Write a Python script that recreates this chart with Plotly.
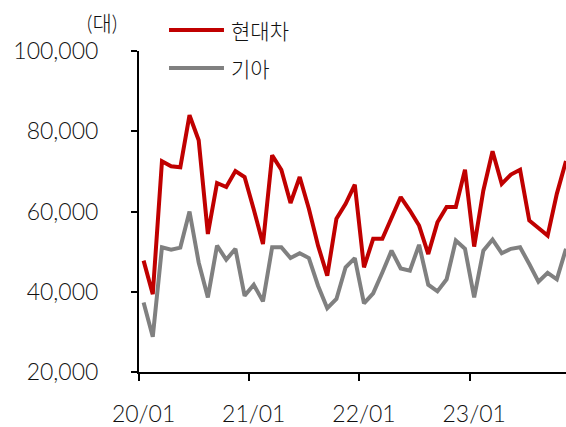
import plotly.graph_objects as go

months = [f"{y:02d}/{m:02d}" for y in range(20, 24) for m in range(1, 13)][:47]

hyundai = [47750, 39400, 72500, 71250, 71000, 84000, 77750, 54400, 67100, 66100, 70100, 68600,
           60500, 51900, 74000, 70400, 62100, 68600, 60700, 51500, 44000, 58200, 61900, 66700,
           46100, 53200, 53200, 58600, 63600, 60250, 56500, 49400, 57300, 61100, 61100, 70400,
           51250, 65250, 75000, 66900, 69200, 70400, 57750, 55900, 54000, 64400, 72600]

kia = [37300, 28800, 51100, 50500, 51000, 60000, 47300, 38600, 51500, 48000, 50700, 39000,
       41750, 37600, 51100, 51100, 48400, 49600, 48400, 41500, 35900, 38200, 46100, 48400,
       37100, 39600, 44800, 50250, 45800, 45250, 51700, 41750, 40100, 43100, 52750, 50700,
       38600, 50250, 53000, 49600, 50700, 51100, 46900, 42500, 44700, 43100, 50700]

series_names = ["현대차", "기아"]
series_colors = ["#C00000", "#808080"]
unit_label = "(대)"
y_ticks = [20000, 40000, 60000, 80000, 100000]
label_idx = [0, 12, 24, 36]

x = list(range(len(months)))
FONT = "Lato, 'Noto Sans CJK KR', sans-serif"
TXT = "#111111"
xr = [-0.5, 46.0]

fig = go.Figure()
fig.add_trace(go.Scatter(x=x, y=kia, mode="lines", name=series_names[1],
                         line=dict(color=series_colors[1], width=4), xaxis="x2", yaxis="y"))
fig.add_trace(go.Scatter(x=x, y=hyundai, mode="lines", name=series_names[0],
                         line=dict(color=series_colors[0], width=4)))

fig.update_layout(
    width=566, height=427,
    margin=dict(l=139, r=0, t=51, b=55, autoexpand=False),
    paper_bgcolor="white", plot_bgcolor="white",
    showlegend=False,
    font=dict(family=FONT, size=23, color=TXT, weight=300),
    xaxis=dict(range=xr, showgrid=False, zeroline=False, showline=True, automargin=False,
               linecolor="black", linewidth=2, ticks="outside", ticklen=7,
               tickwidth=2, tickcolor="black",
               tickvals=[i - 0.5 for i in label_idx], showticklabels=False),
    xaxis2=dict(range=xr, overlaying="x", side="bottom", anchor="y", automargin=False,
                showgrid=False, zeroline=False, showline=False, ticks="",
                tickvals=label_idx, ticktext=[months[i] for i in label_idx],
                ticklabelstandoff=26, tickfont=dict(size=23, weight=300)),
    yaxis=dict(range=[20000, 100000], showgrid=False, zeroline=False, showline=True,
               automargin=False,
               linecolor="black", linewidth=2, ticks="outside", ticklen=6,
               tickwidth=2, tickcolor="black", tickvals=y_ticks, tickformat=",d",
               ticklabelstandoff=28, tickfont=dict(size=23, weight=300)),
)

# legend drawn as line samples + labels
leg_y = [1.0654, 0.947]
for name, color, ly in zip(series_names, series_colors, leg_y):
    fig.add_shape(type="line", xref="paper", yref="paper", x0=0.0703, x1=0.199,
                  y0=ly, y1=ly, line=dict(color=color, width=4))
    fig.add_annotation(xref="paper", yref="paper", x=0.2108, y=ly, text=name,
                       showarrow=False, xanchor="left", yanchor="middle",
                       font=dict(size=21, family=FONT, color=TXT))

fig.add_annotation(xref="paper", yref="paper", x=-0.087, y=1.09, text=unit_label,
                   showarrow=False, xanchor="center", yanchor="middle",
                   font=dict(size=21, family=FONT, color=TXT))

fig.write_html(
    "out.html",
    config={"displayModeBar": False},
    post_script="document.body.style.margin='0';document.documentElement.style.overflow='hidden';",
)
